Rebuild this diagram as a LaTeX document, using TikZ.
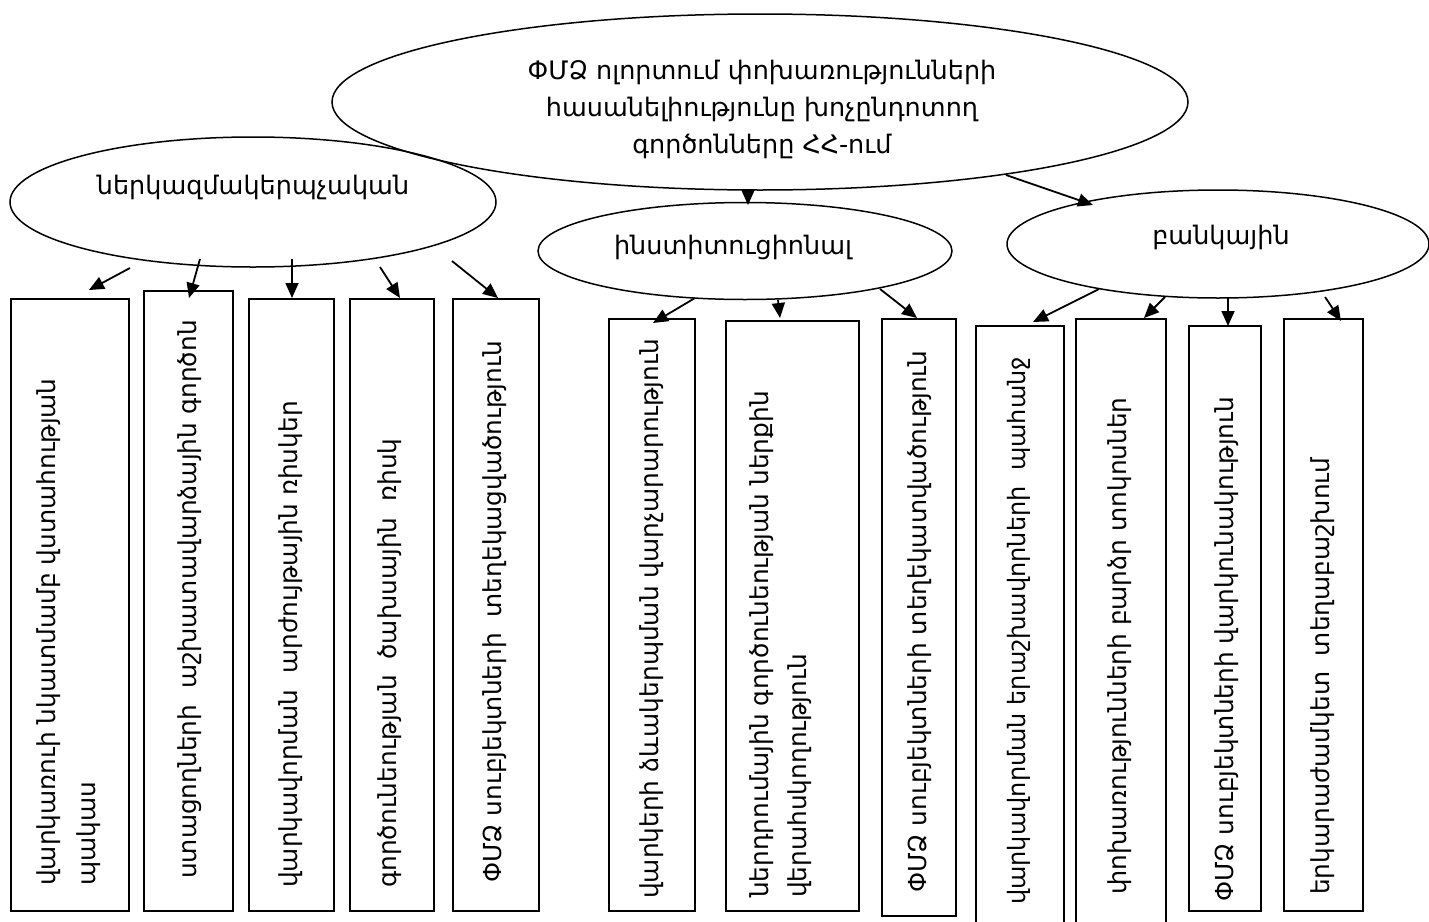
\documentclass[tikz,border=0pt]{standalone}
\usepackage{fontspec}
\setmainfont{DejaVu Sans}
\usetikzlibrary{arrows.meta,shapes.geometric}
\begin{document}
\begin{tikzpicture}[x=1pt,y=-1pt,
  ell/.style={draw, ellipse, line width=1.5pt, inner sep=0pt},
  boxnode/.style={draw, line width=1.5pt, anchor=north west, inner sep=0pt},
  lbl/.style={align=center, inner sep=0pt, font=\fontsize{25.5}{37}\selectfont},
  vtext/.style={rotate=90, anchor=west, align=left, inner sep=0pt, font=\fontsize{24.8}{40}\selectfont},
  arr/.style={line width=1.8pt, -{Triangle[length=15pt,width=13pt]}}]
\useasboundingbox (0,0) rectangle (1429,921);

% ellipses
\node[ell, minimum width=856, minimum height=176] (top) at (760,102) {};
\node[lbl] (toptext) at (762,109) {ՓՄՁ ոլորտում փոխառությունների\\հասանելիությունը խոչընդոտող\\գործոնները ՀՀ-ում};
\node[ell, minimum width=486, minimum height=130] (left) at (253,202) {};
\node[lbl] (lefttext) at (253,187) {ներկազմակերպչական};
\node[ell, minimum width=414, minimum height=97] (mid) at (745,251) {};
\node[lbl] (midtext) at (733,247) {ինստիտուցիոնալ};
\node[ell, minimum width=422, minimum height=108] (right) at (1218,244) {};
\node[lbl] (righttext) at (1221,237) {բանկային};

% boxes
\node[boxnode, minimum width=118, minimum height=612] (b1) at (10,298) {};
\node[boxnode, minimum width=89, minimum height=620] (b2) at (143,290) {};
\node[boxnode, minimum width=85, minimum height=612] (b3) at (248,298) {};
\node[boxnode, minimum width=84, minimum height=612] (b4) at (349,298) {};
\node[boxnode, minimum width=86, minimum height=612] (b5) at (452,298) {};
\node[boxnode, minimum width=86, minimum height=592] (b6) at (608,318) {};
\node[boxnode, minimum width=133, minimum height=590] (b7) at (725,320) {};
\node[boxnode, minimum width=74, minimum height=597] (b8) at (881,318) {};
\node[boxnode, minimum width=88, minimum height=610] (b9) at (975,325) {};
\node[boxnode, minimum width=90, minimum height=617] (b10) at (1075,318) {};
\node[boxnode, minimum width=72, minimum height=585] (b11) at (1188,325) {};
\node[boxnode, minimum width=79, minimum height=592] (b12) at (1283,318) {};

% box texts
\node[vtext] (t1) at (69,886) {վարկառուի նկատմամբ վստահության\\պակաս};
\node[vtext] (t2) at (190,879) {ստացողների\ \ աշխատավարձային գործոն};
\node[vtext] (t3) at (291,888) {վարկավորման\ \ արժույթային ռիսկեր};
\node[vtext] (t4) at (390,888) {գործունեության\ \ ծախսային\ \ ռիսկ};
\node[vtext] (t5) at (495,883) {ՓՄՁ սուբյեկտների\ \ տեղեկացվածություն};
\node[vtext] (t6) at (652,899) {վարկերի ձևակերպման վարչարարություն};
\node[vtext, font=\fontsize{24.8}{38}\selectfont] (t7) at (781,898) {ներդրումային գործունեության ներքին\\վերահսկողություն};
\node[vtext] (t8) at (920,893) {ՓՄՁ սուբյեկտների տեղեկատվածություն};
\node[vtext, font=\fontsize{24}{40}\selectfont] (t9) at (1019,905) {վարկավորման երաշխավորների\ \ պահանջ};
\node[vtext] (t10) at (1120,895) {փոխառությունների բարձր տոկոսներ};
\node[vtext] (t11) at (1227,902) {ՓՄՁ սուբյեկտների վարկունակություն};
\node[vtext] (t12) at (1323,895) {երկարաժամկետ\ \ տեղաբաշխում};

% connector end points
\coordinate (s0) at (748,190);  \coordinate (e0) at (748,205);
\coordinate (s00) at (1006,175); \coordinate (e00) at (1093,205);
\coordinate (s1) at (130,268); \coordinate (e1) at (89,290);
\coordinate (s2) at (200,259); \coordinate (e2) at (189,298);
\coordinate (s3) at (292,259); \coordinate (e3) at (292,298);
\coordinate (s4) at (380,267); \coordinate (e4) at (400,298);
\coordinate (s5) at (452,261); \coordinate (e5) at (498,298);
\coordinate (s6) at (695,298); \coordinate (e6) at (653,323);
\coordinate (s7) at (778,300); \coordinate (e7) at (780,318);
\coordinate (s8) at (880,289); \coordinate (e8) at (917,318);
\coordinate (s9) at (1099,289); \coordinate (e9) at (1033,322);
\coordinate (s10) at (1165,297); \coordinate (e10) at (1144,318);
\coordinate (s11) at (1228,297); \coordinate (e11) at (1228,326);
\coordinate (s12) at (1325,297); \coordinate (e12) at (1341,321);

\foreach \i in {0,00,1,2,3,4,5,6,7,8,9,10,11,12}
  \draw[arr] (s\i) -- (e\i);
\end{tikzpicture}
\end{document}
